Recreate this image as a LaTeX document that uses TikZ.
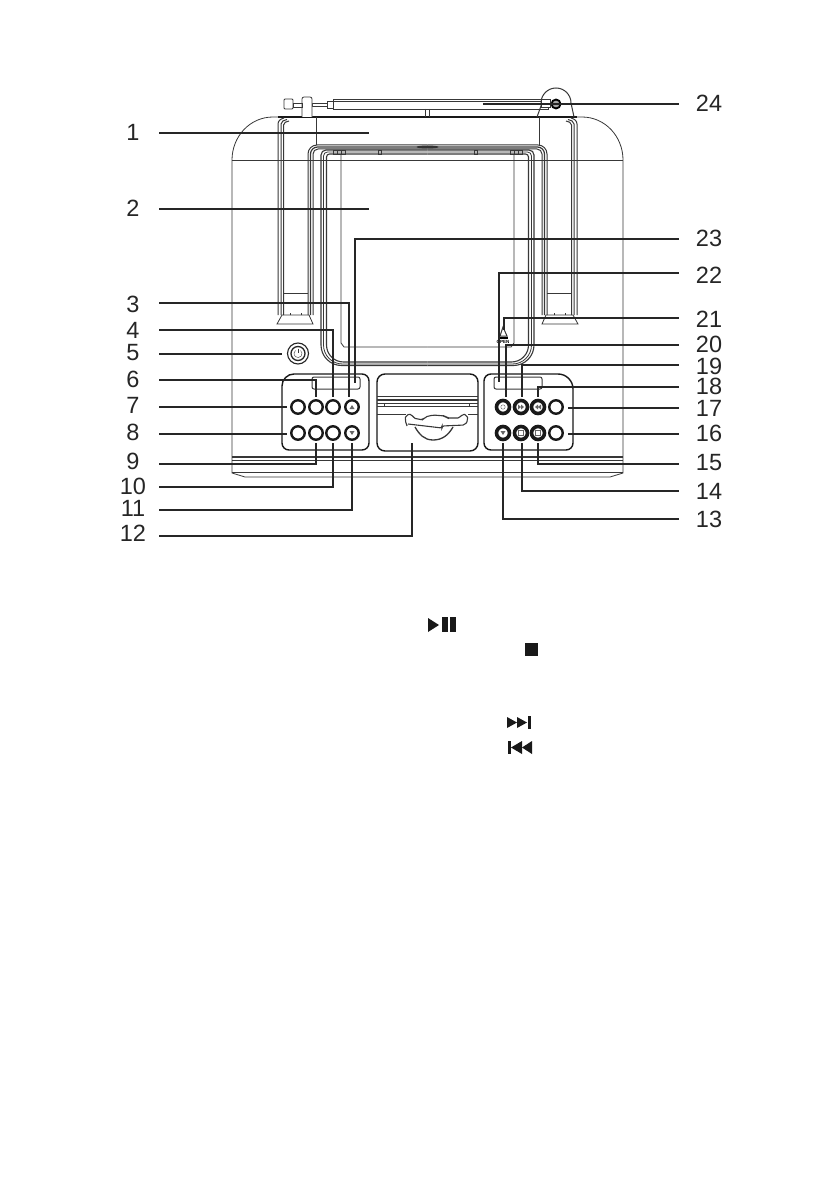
\documentclass[tikz,border=0pt]{standalone}
\usepackage{fontspec}
\setmainfont{Liberation Sans}
\usetikzlibrary{calc}
\definecolor{inkline}{gray}{0.22}
\tikzstyle{outline} = [draw=inkline,line width=0.8pt]
\tikzstyle{heavy} = [draw=black!90,line width=1.4pt]
\tikzstyle{leader} = [draw=black!85,line width=1.1pt]
\tikzstyle{num} = [inner sep=0pt,font=\fontsize{23.5}{24}\selectfont,text=black!85]
\tikzstyle{leftnum} = [num,minimum width=52pt]
\tikzstyle{rightnum} = [num,minimum width=60pt]
\tikzstyle{btn} = [circle,draw=black!90,line width=2.4pt,minimum size=13.5pt,inner sep=0pt]
\tikzstyle{darkbtn} = [btn,line width=3.6pt,minimum size=13pt]
\tikzstyle{glyph} = [fill=black!60,draw=none]
\tikzstyle{media} = [fill=black!90,draw=none]
% one half of the strap and of the screen frame, the other half is mirrored
\newcommand{\framehalf}{
	\draw[outline,line width=1pt] (278,315) -- (278,124) to[out=90,in=195] (284,118);
	\draw[outline,line width=1pt] (281,315) -- (281,124) to[out=90,in=195] (287,119.5);
	\draw[outline,line width=1pt] (283.5,315) -- (283.5,125) to[out=90,in=195] (289,121);
	\draw[outline,line width=1pt] (308,315) -- (308,154) arc (180:270:9) -- (427.5,145);
	\draw[outline,line width=1.2pt] (310.5,315) -- (310.5,154) arc (180:270:7) -- (427.5,147);
	\draw[outline,line width=1pt] (313,315) -- (313,154) arc (180:270:5) -- (427.5,149);
	\draw[outline] (277,324) -- (282,315) -- (309,315) -- (313,324) -- cycle;
	\draw[outline] (283.5,293) -- (308,293);
	\draw[outline] (290,315) -- (290,313) (301,315) -- (301,313);
	\draw[outline,line width=1.1pt] (321,345) -- (321,155) arc (180:270:5) -- (427.5,150);
	\draw[outline] (323.5,345) -- (323.5,156) arc (180:270:4) -- (427.5,152);
	\draw[outline,line width=1.1pt] (326.5,345) -- (326.5,157) arc (180:270:3) -- (427.5,154);
	\draw[outline,line width=1.1pt] (321,345) arc (180:90:20.5) -- (427.5,365.5);
	\draw[outline] (323.5,345) arc (180:90:19) -- (427.5,364);
	\draw[outline,line width=1.1pt] (326.5,345) arc (180:90:17) -- (427.5,362);
	\draw[outline] (341,154) -- (341,343) -- (344,347) -- (427.5,347);
	\draw[outline] (316,117) -- (316,145);
	\draw[outline] (333,150.5) rectangle (337,154) (337,150.5) rectangle (341,154) (341,150.5) rectangle (345,154);
	\draw[outline] (378,150.5) rectangle (381,154);
}

\begin{document}
\begin{tikzpicture}[x=1pt,y=-1pt]
	\useasboundingbox (0,0) rectangle (838,1190);
	\fill[white] (0,0) rectangle (838,1190);

	% body
	\draw[outline] (232,473) -- (232,160) to[out=90,in=180] (273,117) -- (582,117) to[out=0,in=90] (623,160) -- (623,473) -- (610,477) -- (245,477) -- cycle;
	\draw[outline] (232,160) -- (623,160);
	\draw[outline,line width=1.2pt] (232,457) -- (623,457);
	\draw[outline] (232,460) -- (623,460);
	\draw[outline,line width=1pt] (232,472.5) -- (623,472.5);
	\draw[heavy] (278,117) -- (577,117);

	% strap and screen frame
	\framehalf
	\begin{scope}[shift={(855,0)},xscale=-1]
		\framehalf
	\end{scope}
	\fill[black!80] (427.5,147) ellipse (11 and 1.5);
	\draw[outline] (425,109) -- (425,117) (429,109) -- (429,117);

	% antenna
	\draw[outline] (333,99) rectangle (548,109);
	\draw[outline] (333,101) -- (548,101);
	\draw[outline] (327,101) rectangle (333,108);
	\draw[outline] (312,103) rectangle (327,106);
	\draw[outline,fill=white,rounded corners=2pt] (302,117) -- (302,97) -- (312,97) -- (312,117);
	\draw[outline] (293,103) rectangle (302,107);
	\draw[outline,rounded corners=1pt] (284,99) rectangle (293,109);
	\draw[outline,line width=1pt,fill=white] (541,100) rectangle (550,108);
	\draw[outline,line width=1pt] (537,117) -- (541,106) -- (541,103) arc (180:360:15) -- (574,117);
	\node (pivot) [circle,draw=black,fill=black!35,line width=1.8pt,minimum size=9pt,inner sep=0pt] at (556,104) {};

	% power button
	\node (powerring) [circle,draw=black!85,line width=1.1pt,minimum size=21pt,inner sep=0pt] at (298,353.5) {};
	\node (powerknob) [circle,draw=black!85,line width=1.3pt,minimum size=14pt,inner sep=0pt] at (298,353.5) {};
	\draw[inkline] (300.6,350.5) arc (-50:230:4);
	\draw[inkline] (298,348.5) -- (298,353);

	% left panel
	\draw[heavy,rounded corners=7pt] (282,395) [rounded corners=12pt] -- (282,374) [rounded corners=7pt] -- (369,374) -- (369,450) -- (282,450) -- cycle;
	\draw[outline,line width=1pt,rounded corners=2pt] (360,389) -- (360,377) -- (312,377) -- (312,389) -- cycle;
	\foreach \name/\x in {a/298,b/316,c/333,d/352} {
		\node (up\name) [btn] at (\x,407) {};
		\node (lo\name) [btn] at (\x,433) {};
	}
	\fill[glyph] (349.5,409) -- (354.5,409) -- (352,405) -- cycle;
	\fill[glyph] (349.5,431) -- (354.5,431) -- (352,435) -- cycle;

	% right panel
	\draw[heavy,rounded corners=7pt] (573,395) [rounded corners=15pt] -- (573,374) [rounded corners=7pt] -- (484,374) -- (484,450) -- (573,450) -- cycle;
	\draw[outline,line width=1pt,rounded corners=2pt] (494,389) -- (494,377) -- (542,377) -- (542,389) -- cycle;
	\foreach \name/\x in {a/503,b/521,c/538} {
		\node (rup\name) [darkbtn] at (\x,407) {};
		\node (rlo\name) [darkbtn] at (\x,433) {};
	}
	\node (rupd) [btn] at (556,407) {};
	\node (rlod) [btn] at (556,433) {};
	\draw[black!60] (503,407) circle (2.2);
	\fill[glyph] (518,404.5) -- (521,407) -- (518,409.5) -- cycle (521,404.5) -- (524,407) -- (521,409.5) -- cycle;
	\fill[glyph] (541,404.5) -- (538,407) -- (541,409.5) -- cycle (538,404.5) -- (535,407) -- (538,409.5) -- cycle;
	\fill[glyph] (500.5,431) -- (505.5,431) -- (503,435) -- cycle;
	\draw[black!60] (518.5,430.5) rectangle (523.5,435.5);
	\draw[black!60] (535.5,430.5) rectangle (540.5,435.5);

	% open arrow
	\draw[outline,line width=1pt] (500,336) -- (503,327) -- (507,336) -- cycle;
	\draw[black,line width=1.6pt] (498,338) -- (508,338);
	\node (opentext) [inner sep=0pt,font=\fontsize{4.5}{5}\bfseries\selectfont] at (503,341.5) {OPEN};

	% dock
	\draw[heavy,rounded corners=8pt] (377,374) rectangle (478,451);
	\draw[outline] (377,396) -- (478,396);
	\draw[outline,line width=1.2pt] (377,400) -- (478,400);
	\draw[outline] (377,403) -- (478,403);
	\draw[outline] (377,406) -- (478,406);
	\draw[outline] (384,403) -- (384,406) (469,403) -- (469,406);
	\draw[outline] (377,414) -- (406,414) (468,414) -- (478,414);
	\draw[outline,line width=1.1pt,rounded corners=2pt] (407,426) -- (405,420) -- (406,415) -- (412,414) -- (413,418) -- (423,420) -- (425,417) -- (433,415) -- (445,416) -- (447,418) -- (460,418) -- (462,414) -- (467,415) -- (468,420) -- (465,425) -- (442,426) -- (442,428) -- (408,424);
	\draw[outline,line width=1.3pt] (415,427) to[out=-60,in=180] (433,440) to[out=0,in=240] (453,427);

	\begin{scope}
		\clip (0,0) rectangle (721.5,541.5);
		% numbers
		\foreach \n/\y in {1/132,2/208,3/304,4/330,5/353,6/379,7/405,8/432,9/461,10/486,11/508,12/533} {
			\node (n\n) [leftnum] at (133,\y) {\n};
		}
		\foreach \n/\y in {24/103,23/238,22/275,21/319,20/344,19/366,18/386,17/408,16/433,15/463,14/491,13/519} {
			\node (n\n) [rightnum] at (709,\y) {\n};
		}
	\end{scope}

	% leaders: number, level, end x, end y
	\foreach \n/\ly/\lx/\ey in {1/133/369/133,2/209/369/209,3/303/349/397,4/330/333/397,5/354/282/354,6/380/316/397,7/407/287/407,8/434/287/434,9/464/316/443,10/487/333/443,11/510/352/443,12/536/412/443} {
		\coordinate (c\n) at (\lx,\ly);
		\coordinate (e\n) at (\lx,\ey);
		\draw[leader] (n\n.east |- c\n) -- (c\n) -- (e\n);
	}
	\foreach \n/\ly/\lx/\ey in {24/104/483/104,23/239/355/383,22/273/499/382,21/318/504/330,20/345/506/397,19/365/522/397,18/387/538/397,17/408/568/408,16/434/568/434,15/464/538/443,14/491/522/443,13/519/503/443} {
		\coordinate (c\n) at (\lx,\ly);
		\coordinate (e\n) at (\lx,\ey);
		\draw[leader] (n\n.west |- c\n) -- (c\n) -- (e\n);
	}

	% key symbols
	\fill[media] (428,618) -- (439,625) -- (428,632) -- cycle;
	\fill[media] (442,617) rectangle (448,632);
	\fill[media] (450,617) rectangle (456,632);
	\fill[media] (525,643) rectangle (538,656);
	\fill[media] (507,717) -- (517,722.5) -- (507,728) -- cycle;
	\fill[media] (517,717) -- (527,722.5) -- (517,728) -- cycle;
	\fill[media] (528,716) rectangle (531,729);
	\fill[media] (507.5,741) rectangle (511,754);
	\fill[media] (522,741) -- (511,747.5) -- (522,754) -- cycle;
	\fill[media] (532,741) -- (522,747.5) -- (532,754) -- cycle;
\end{tikzpicture}
\end{document}
